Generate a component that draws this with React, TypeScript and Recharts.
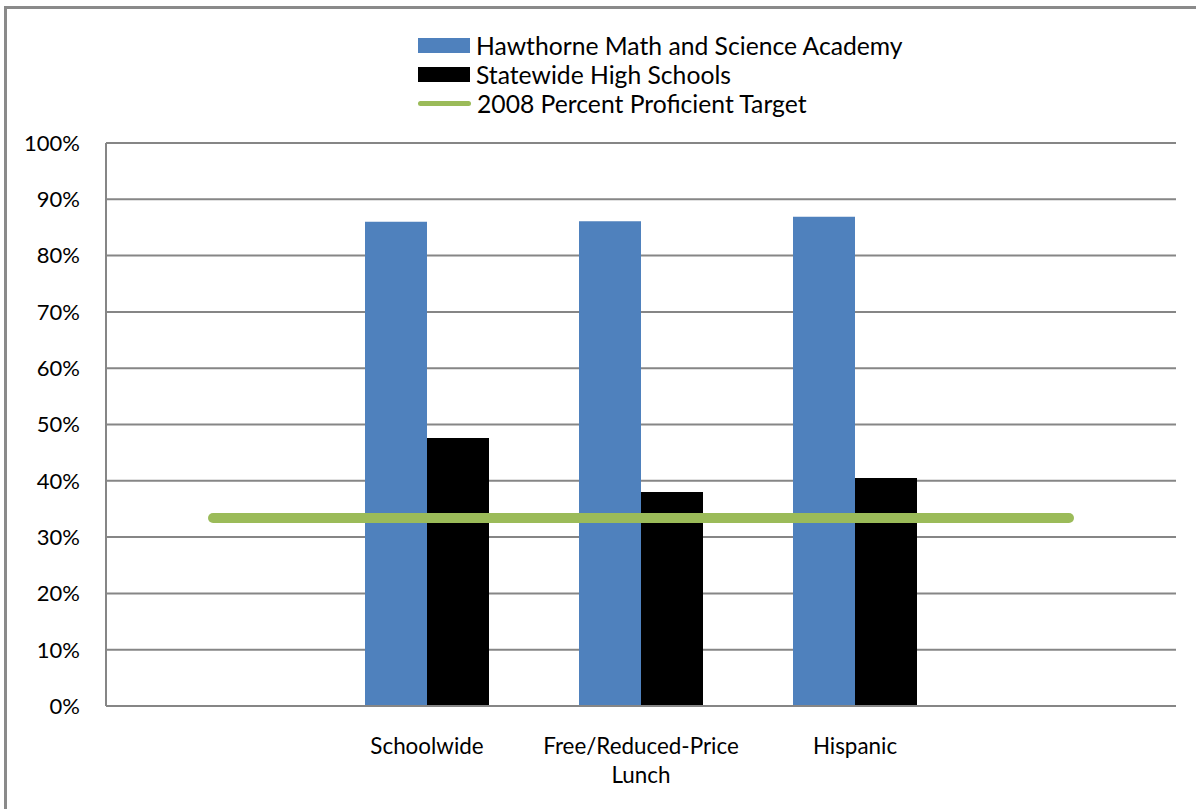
import { Bar, CartesianGrid, ComposedChart, Legend, Line, XAxis, YAxis } from "recharts";

const categories = ["", "Schoolwide", "Free/Reduced-Price Lunch", "Hispanic", " "];
const hawthorne = [null, 86, 86.1, 86.9, null];
const statewide = [null, 47.6, 38.0, 40.5, null];
const target = [33.4, 33.4, 33.4, 33.4, 33.4];
const yTicks = [0, 10, 20, 30, 40, 50, 60, 70, 80, 90, 100];

const BLUE = "#4F81BD";
const BLACK = "#000000";
const GREEN = "#9BBB59";
const GRID = "#868686";
const FONT = "Lato, 'Open Sans', sans-serif";

const data = categories.map((name, i) => ({
  name,
  hawthorne: hawthorne[i],
  statewide: statewide[i],
  target: target[i]
}));

const legendItems = [
  { label: "Hawthorne Math and Science Academy", color: BLUE, kind: "bar" },
  { label: "Statewide High Schools", color: BLACK, kind: "bar" },
  { label: "2008 Percent Proficient Target", color: GREEN, kind: "line" }
];

// greedy word wrap, at most ~18 characters a line
const wrapLabel = (label: string, max = 18) => {
  const lines: string[] = [];
  let cur = "";
  for (const word of label.split(" ")) {
    if (cur && (cur + " " + word).length > max) {
      lines.push(cur);
      cur = word;
    } else {
      cur = cur ? cur + " " + word : word;
    }
  }
  if (cur) lines.push(cur);
  return lines;
};

const ChartLegend = () => (
  <div style={{ position: "relative", height: 110, width: 560, fontFamily: FONT }}>
    {legendItems.map((item, i) => (
      <div
        key={item.label}
        style={{ position: "absolute", left: 0, top: i * 29, height: 24, display: "flex", alignItems: "center" }}
      >
        {item.kind === "bar" ? (
          <div style={{ width: 52, height: 15, background: item.color }} />
        ) : (
          <div style={{ width: 53, height: 5, borderRadius: 3, background: item.color }} />
        )}
        <span style={{ marginLeft: 6, fontSize: 24.7, color: "#000", whiteSpace: "nowrap" }}>{item.label}</span>
      </div>
    ))}
  </div>
);

const XTick = ({ x, y, payload }: any) => {
  const lines = wrapLabel(String(payload.value).trim());
  return (
    <text x={x} y={y + 40} textAnchor="middle" fontSize={22.4} fontFamily={FONT} fill="#000">
      {lines.map((line, i) => (
        <tspan key={i} x={x} dy={i === 0 ? 0 : 29}>
          {line}
        </tspan>
      ))}
    </text>
  );
};

export default function App() {
  return (
    <div style={{ position: "absolute", left: 0, top: 0, width: 1196, height: 809, overflow: "hidden", background: "#fff" }}>
      <div
        style={{
          position: "absolute",
          left: 4,
          top: 6,
          width: 1210,
          height: 820,
          border: "3px solid #8a8a8a"
        }}
      />
      <div style={{ position: "absolute", left: 0, top: 0 }}>
        <ComposedChart
          width={1196}
          height={809}
          data={data}
          margin={{ top: 33, right: 20, bottom: 0, left: 0 }}
          barGap={0}
        >
          <CartesianGrid vertical={false} stroke={GRID} strokeWidth={2} />
          <XAxis
            dataKey="name"
            interval={0}
            tickLine={false}
            axisLine={{ stroke: GRID, strokeWidth: 2 }}
            tick={<XTick />}
            height={103}
          />
          <YAxis
            width={106}
            domain={[0, 100]}
            ticks={yTicks}
            tickFormatter={(v) => `${v}%`}
            tickLine={false}
            tickSize={0}
            tickMargin={26}
            axisLine={{ stroke: GRID, strokeWidth: 2 }}
            tick={{ fontSize: 22, fontFamily: FONT, fill: "#000" }}
          />
          <Legend verticalAlign="top" align="left" wrapperStyle={{ left: 418, top: 33 }} content={<ChartLegend />} />
          <Bar dataKey="hawthorne" fill={BLUE} barSize={62} isAnimationActive={false} />
          <Bar dataKey="statewide" fill={BLACK} barSize={62} isAnimationActive={false} />
          <Line
            dataKey="target"
            stroke={GREEN}
            strokeWidth={10}
            strokeLinecap="round"
            dot={false}
            activeDot={false}
            isAnimationActive={false}
          />
        </ComposedChart>
      </div>
    </div>
  );
}
